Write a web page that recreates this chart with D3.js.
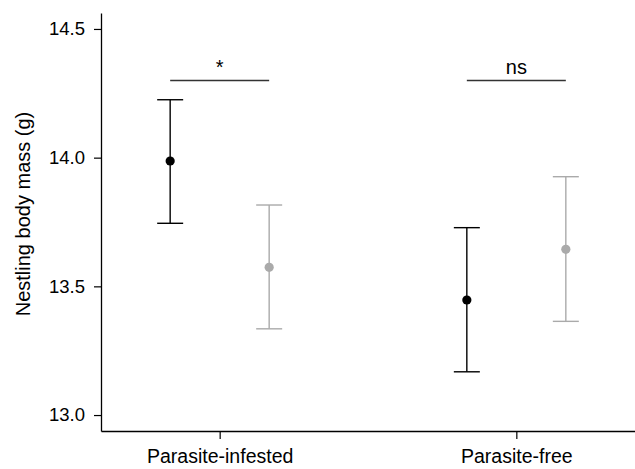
<!DOCTYPE html>
<html><head><meta charset="utf-8">
<script src="https://cdn.jsdelivr.net/npm/d3@7"></script>
<style>body{margin:0;background:#fff}svg{display:block}text{font-family:"Liberation Sans",Arial,sans-serif}</style>
</head><body><svg id="c" width="635" height="469"></svg>
<script>
const categories = ["Parasite-infested", "Parasite-free"];
const groups = ["A", "B"];
const groupColors = ["#000000", "#aaaaaa"];
const means  = [[13.987, 13.574], [13.447, 13.644]];
const upper  = [[14.225, 13.816], [13.728, 13.926]];
const lower  = [[13.745, 13.335], [13.168, 13.364]];
const yTicks = [13.0, 13.5, 14.0, 14.5];
const sigLabels = ["*", "ns"];
const sigLevel = 14.3;

const svg = d3.select("#c");
const y = d3.scaleLinear().domain([12.938, 14.562]).range([431, 13]);
const x = d3.scalePoint().domain(categories).range([101, 635]).padding(0.4);
const dodge = d3.scalePoint().domain(groups).range([-49.5, 49.5]);
const FF = "Liberation Sans, Arial, sans-serif";

// y axis
const ya = svg.append("g").attr("transform","translate(101,0)")
  .call(d3.axisLeft(y).tickValues(yTicks).tickFormat(d3.format(".1f")).tickSize(7).tickPadding(9).tickSizeOuter(0));
ya.select(".domain").attr("stroke","#000").attr("stroke-width",1.3);
ya.selectAll(".tick line").attr("stroke","#000").attr("stroke-width",1.2);
ya.selectAll(".tick text").attr("font-size",18.5).attr("fill","#000").attr("font-family",FF);

// x axis
const xa = svg.append("g").attr("transform","translate(0,431)")
  .call(d3.axisBottom(x).tickSize(8).tickPadding(10).tickSizeOuter(0));
xa.select(".domain").attr("stroke","#000").attr("stroke-width",1.3);
xa.selectAll(".tick line").attr("stroke","#000").attr("stroke-width",1.2);
xa.selectAll(".tick text").attr("font-size",19.5).attr("fill","#000").attr("font-family",FF);

// y label
svg.append("text").attr("transform","translate(30,214) rotate(-90)")
  .attr("text-anchor","middle").attr("font-size",20).attr("fill","#000").attr("font-family",FF)
  .text("Nestling body mass (g)");

// error bars
const cap = 13;
categories.forEach((c, i) => {
  groups.forEach((g, j) => {
    const cx = x(c) + dodge(g);
    const col = groupColors[j];
    const gr = svg.append("g").attr("stroke", col).attr("stroke-width", 1.4);
    gr.append("line").attr("x1",cx).attr("x2",cx).attr("y1",y(upper[i][j])).attr("y2",y(lower[i][j]));
    gr.append("line").attr("x1",cx-cap).attr("x2",cx+cap).attr("y1",y(upper[i][j])).attr("y2",y(upper[i][j]));
    gr.append("line").attr("x1",cx-cap).attr("x2",cx+cap).attr("y1",y(lower[i][j])).attr("y2",y(lower[i][j]));
    svg.append("circle").attr("cx",cx).attr("cy",y(means[i][j])).attr("r",4.6).attr("fill",col);
  });
  // significance
  const x1 = x(c) + dodge(groups[0]), x2 = x(c) + dodge(groups[1]);
  svg.append("line").attr("x1",x1).attr("x2",x2).attr("y1",y(sigLevel)).attr("y2",y(sigLevel))
    .attr("stroke","#333").attr("stroke-width",1.4);
  svg.append("text").attr("x",(x1+x2)/2).attr("y", y(sigLevel) - 6)
    .attr("text-anchor","middle").attr("font-size", 20).attr("fill","#000").attr("font-family",FF)
    .text(sigLabels[i]);
});
</script></body></html>
